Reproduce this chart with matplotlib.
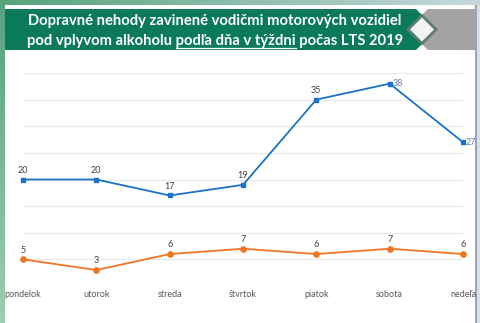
import numpy as np
import matplotlib
matplotlib.use('Agg')
import matplotlib.pyplot as plt
from matplotlib.patches import Rectangle, Polygon

plt.rcParams['font.family'] = ['Lato', 'DejaVu Sans']

# data
dni = ['pondelok', 'utorok', 'streda', 'štvrtok', 'piatok', 'sobota', 'nedeľa']
nehody_vodici = [20, 20, 17, 19, 35, 38, 27]
nehody_ine = [5, 3, 6, 7, 6, 7, 6]

W, H = 480, 323
fig = plt.figure(figsize=(W / 100, H / 100), dpi=100)

# background frame (green gradient left/top, grey right)
bg = np.ones((H, W, 3))
top_c = np.array([0.33, 0.64, 0.48])
bot_c = np.array([0.62, 0.80, 0.71])
t = np.linspace(0, 1, H)[:, None]
bg[:, :5] = (top_c * (1 - t) + bot_c * t)[:, None, :]
s = np.linspace(0, 1, W)[:, None]
right_c = np.array([0.78, 0.85, 0.87])
bg[:5, :] = (top_c * (1 - s) + right_c * s)[None, :, :]
bg[5:, 476:] = np.array([0.84, 0.88, 0.91])
bg[5:, 475:477] = np.array([0.62, 0.64, 0.68])

axbg = fig.add_axes([0, 0, 1, 1])
axbg.imshow(bg, extent=(0, W, H, 0), aspect='auto')
axbg.set_xlim(0, W)
axbg.set_ylim(H, 0)
axbg.axis('off')

# title banner
axbg.add_patch(Rectangle((5, 9), 417, 41, color='#0b7a5b', lw=0))
axbg.add_patch(Rectangle((422, 9), 53, 41, color='#a3a3a3', lw=0))
cx, cy = 422, 29.5
axbg.add_patch(Polygon([(cx - 6, 9), (cx + 6, 9), (cx, 15)], color='white', lw=0))
axbg.add_patch(Polygon([(cx - 6, 50), (cx + 6, 50), (cx, 44)], color='white', lw=0))
d = 16
axbg.add_patch(Polygon([(cx - d, cy), (cx, cy - d), (cx + d, cy), (cx, cy + d)], color='#5b7d72', lw=0))
d = 12
axbg.add_patch(Polygon([(cx - d, cy), (cx, cy - d), (cx + d, cy), (cx, cy + d)], color='#f2f2f2', lw=0))

tkw = dict(color='white', fontsize=10.6, fontweight='bold')
axbg.text(215, 21, 'Dopravné nehody zavinené vodičmi motorových vozidiel', ha='center', va='center', **tkw)

# second line with underlined part
p1 = 'pod vplyvom alkoholu '
p2 = 'podľa dňa v týždni'
p3 = ' počas LTS 2019'
fig.canvas.draw()
r = fig.canvas.get_renderer()
def wpx(s):
    tt = axbg.text(0, 0, s, **tkw)
    w = tt.get_window_extent(r).width
    tt.remove()
    return w
w_all = wpx(p1 + p2 + p3)
x0 = 215 - w_all / 2
u_start = x0 + wpx(p1 + p2) - wpx(p2)
u_end = x0 + wpx(p1 + p2)
axbg.text(x0, 41, p1 + p2 + p3, ha='left', va='center', **tkw)
axbg.plot([u_start, u_end], [48, 48], color='white', lw=0.9, zorder=5)

# chart
ax = fig.add_axes([23 / W, (H - 286) / H, 440 / W, 213 / H])
ax.set_facecolor('none')
x = np.arange(len(dni))
ax.plot(x, nehody_vodici, color='#1a73c6', lw=1.3, marker='s', ms=3.5, clip_on=False)
ax.plot(x, nehody_ine, color='#ee7623', lw=1.3, marker='o', ms=3.8, clip_on=False)

lab = dict(fontsize=6.5, color='#404040')
for i, v in enumerate(nehody_vodici):
    if i >= 5:
        ax.annotate(str(v), (i, v), xytext=(2.2, 0), textcoords='offset points',
                    ha='left', va='center', fontsize=6.5, color='#6680b5')
    else:
        ax.annotate(str(v), (i, v), xytext=(0, 3.5), textcoords='offset points',
                    ha='center', va='bottom', **lab)
for i, v in enumerate(nehody_ine):
    ax.annotate(str(v), (i, v), xytext=(0, 3.5), textcoords='offset points',
                ha='center', va='bottom', **lab)

ax.set_xlim(0, 6)
ax.set_ylim(0, 40)
ax.set_yticks(np.arange(0, 41, 5))
ax.yaxis.grid(True, color='#e8e8e8', lw=0.8)
ax.set_axisbelow(True)
ax.set_yticklabels([])
ax.tick_params(axis='y', length=0)
ax.set_xticks(x)
ax.set_xticklabels(dni)
ax.tick_params(axis='x', length=0, pad=3, labelsize=6.5, labelcolor='#595959')
for sp in ax.spines.values():
    sp.set_visible(False)

fig.savefig('out.png', dpi=100)
